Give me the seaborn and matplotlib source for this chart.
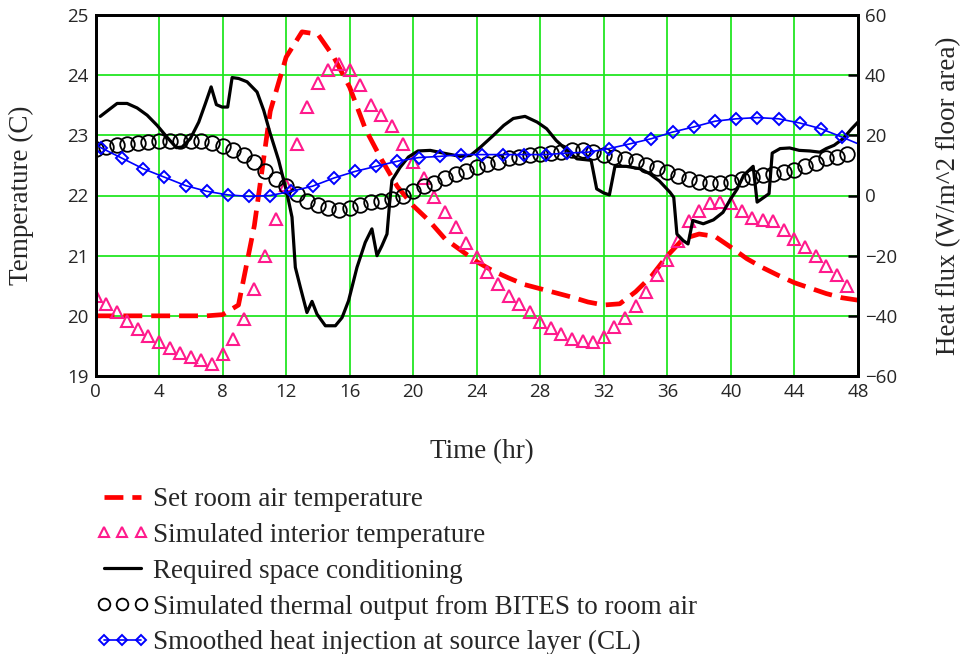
import numpy as np
import matplotlib
matplotlib.use("Agg")
import matplotlib.pyplot as plt
import seaborn as sns

# set room air temperature (C), hourly 0..48
set_hours = list(range(49))
set_temp = [20.0, 20.0, 20.0, 20.0, 20.0, 20.0, 20.0, 20.0, 20.02, 20.18,
            21.5, 23.4, 24.3, 24.72, 24.68, 24.3, 23.8, 23.1, 22.6, 22.15,
            21.83, 21.58, 21.28, 21.09, 20.9, 20.75, 20.63, 20.52, 20.45, 20.38,
            20.31, 20.23, 20.18, 20.2, 20.4, 20.66, 21.0, 21.28, 21.36, 21.32,
            21.14, 20.95, 20.8, 20.67, 20.55, 20.46, 20.37, 20.3, 20.26]

# marker series sampled every 40 minutes
marker_hours = np.arange(72) * 2 / 3
sim_temp = [20.33, 20.19, 20.06, 19.92, 19.78, 19.67, 19.56, 19.47, 19.39, 19.31,
            19.26, 19.2, 19.36, 19.61, 19.94, 20.44, 21.0, 21.61,
            22.17, 22.86, 23.47, 23.87, 24.09, 24.19, 24.09, 23.83, 23.51, 23.34,
            23.15, 22.86, 22.56, 22.29, 21.98, 21.73, 21.47, 21.21,
            20.97, 20.73, 20.53, 20.33, 20.19, 20.06, 19.9, 19.79, 19.69, 19.62,
            19.58, 19.56, 19.64, 19.81, 19.96, 20.17, 20.39,
            20.68, 20.93, 21.24, 21.58, 21.75, 21.87, 21.9, 21.87, 21.75, 21.63,
            21.6, 21.58, 21.43, 21.28, 21.14, 20.99, 20.82, 20.68, 20.5]
bites_out = [15.4, 16.1, 16.7, 17.2, 17.6, 17.8, 18.0, 18.0, 18.0, 18.0,
             18.0, 17.6, 16.6, 15.2, 13.5, 11.3, 8.2, 5.6, 3.3, 0.5,
             -1.7, -3.2, -4.1, -4.7, -4.0, -3.2, -2.3, -1.7, -1.1, -0.3,
             1.5, 3.0, 4.3, 5.8, 7.1, 8.3, 9.6, 10.5, 11.3, 12.4,
             12.9, 13.5, 13.9, 14.1, 14.3, 15.0, 15.1, 14.6, 13.5, 12.7,
             12.1, 11.4, 10.2, 9.1, 7.8, 6.5, 5.5, 4.6, 4.2, 4.1,
             4.6, 5.4, 6.2, 6.7, 7.1, 7.7, 8.6, 9.7, 10.9, 12.3,
             12.8, 13.8]

# required space conditioning (W/m^2)
req_hours = [0.3, 0.94, 1.36, 1.99, 2.62, 3.25, 3.88, 4.5, 5.09, 5.45,
             5.97, 6.5, 6.92, 7.28, 7.61, 7.97, 8.32, 8.6, 9.01, 9.54,
             10.17, 10.59, 11.0, 11.53, 12.06, 12.37, 12.58, 12.9, 13.31, 13.63,
             13.94, 14.47, 15.1, 15.52, 15.93, 16.46, 16.98, 17.4, 17.72, 18.03,
             18.35, 18.51, 18.66, 19.18, 19.7, 20.3, 21.07, 21.9, 22.96, 23.6,
             24.2, 25.05, 25.7, 26.3, 27.04, 27.8, 28.4, 29.0, 29.56, 30.3,
             31.2, 31.55, 31.97, 32.35, 32.7, 33.4, 34.28, 34.9, 35.5, 36.16,
             36.4, 36.6, 37.0, 37.3, 37.6, 38.26, 38.9, 39.5, 40.0, 40.4,
             40.8, 41.4, 41.65, 42.4, 42.6, 43.1, 43.7, 44.3, 44.97, 45.6,
             46.0, 46.5, 47.06, 47.6, 48.0]
req_flux = [26.3, 28.9, 30.6, 30.6, 29.1, 26.7, 23.3, 19.4, 15.9, 16.1,
            18.9, 24.4, 30.6, 36.1, 30.2, 29.4, 29.4, 39.2, 38.9, 37.8,
            34.4, 28.3, 20.6, 11.7, 0.6, -7.2, -23.9, -30.6, -38.9, -35.2,
            -39.4, -43.3, -43.3, -40.6, -35.0, -23.9, -15.6, -11.1, -20.0, -16.7,
            -12.8, -2.8, 5.0, 9.4, 12.8, 14.8, 15.0, 14.1, 13.0, 13.3,
            15.9, 20.0, 23.3, 25.6, 26.3, 24.4, 22.2, 18.3, 15.6, 12.2,
            11.7, 2.2, 0.9, 0.2, 9.7, 9.7, 8.9, 7.2, 4.8, 1.1,
            -0.6, -12.8, -15.0, -16.1, -8.3, -9.4, -8.1, -5.6, -1.0, 2.2,
            6.7, 9.7, -2.2, 0.6, 14.1, 15.6, 15.8, 15.0, 14.8, 14.4,
            15.6, 16.7, 18.9, 22.2, 24.4]

# smoothed heat injection at source layer (line ends + diamond points)
inj_hours = [0.0] + list(np.arange(36) * 4 / 3 + 1 / 3) + [48.0]
inj_flux = [17.0, 15.9, 12.4, 8.9, 6.1, 3.3, 1.4, 0.2, -0.3, 0.0,
            1.4, 3.1, 5.8, 8.0, 9.7, 11.4, 12.6, 13.0, 13.6, 13.6,
            13.6, 13.6, 13.6, 14.1, 14.4, 15.6, 17.2, 18.9, 21.1, 22.8,
            24.7, 25.5, 25.9, 25.5, 24.1, 22.2, 19.4, 17.2]

labels = ["Set room air temperature",
          "Simulated interior temperature",
          "Required space conditioning",
          "Simulated thermal output from BITES to room air",
          "Smoothed heat injection at source layer (CL)"]

sns.set_style("white")
plt.rcParams["font.family"] = ["Liberation Serif", "DejaVu Serif"]

fig = plt.figure(figsize=(9.6, 6.54), dpi=100)
ax = fig.add_axes([95.5 / 960, 1 - 376 / 654, 762.5 / 960, 361 / 654])
ax2 = ax.twinx()

pink = "#ff1a8c"
sns.lineplot(x=set_hours, y=set_temp, ax=ax, color="red", lw=3.4, errorbar=None)
ax.lines[-1].set_dashes([4, 1.9])
red_line = ax.lines[-1]
sns.lineplot(x=marker_hours, y=sim_temp, ax=ax, color=pink, linestyle="none",
             marker="^", markersize=9, mfc="none", mec=pink, mew=1.5, errorbar=None)
tri_line = ax.lines[-1]

sns.lineplot(x=req_hours, y=req_flux, ax=ax2, color="black", lw=2.3, errorbar=None)
blk_line = ax2.lines[-1]
sns.lineplot(x=marker_hours, y=bites_out, ax=ax2, color="black", linestyle="none",
             marker="o", markersize=10.5, mfc="none", mec="black", mew=1.3, errorbar=None)
circ_line = ax2.lines[-1]
sns.lineplot(x=inj_hours, y=inj_flux, ax=ax2, color="#0000ff", lw=1.2,
             marker="D", markersize=6.5, mfc="none", mec="#0000ff", mew=1.4,
             markevery=list(range(1, 37)), errorbar=None)
dia_line = ax2.lines[-1]

for a in (ax, ax2):
    if a.get_legend() is not None:
        a.get_legend().remove()

ax.set_xlim(0, 48)
ax.set_ylim(19, 25)
ax2.set_ylim(-60, 60)
ax.set_xticks(range(0, 49, 4))
ax.set_yticks(range(19, 26))
ax2.set_yticks(range(-60, 61, 20))

ax.grid(True, color="#22e622", lw=1.3)
ax.set_axisbelow(True)
for a in (ax, ax2):
    for s in a.spines.values():
        s.set_color("black")
        s.set_linewidth(2)

ax.tick_params(axis="both", length=0, pad=5)
ax2.tick_params(axis="y", direction="in", length=7, width=1.8, color="black", pad=5)
for lab in ax.get_xticklabels() + ax.get_yticklabels() + ax2.get_yticklabels():
    lab.set_fontfamily("Open Sans")
    lab.set_fontsize(13.5)

ax.set_xlabel("Time (hr)", fontsize=19.5)
ax.set_ylabel("Temperature (C)", fontsize=19.5)
ax2.set_ylabel("Heat flux (W/m^2 floor area)", fontsize=19.5)
ax.xaxis.set_label_coords(0.507, -0.175)
ax.yaxis.set_label_coords(-0.08, 0.5)
ax2.yaxis.set_label_coords(1.103, 0.5)

handles = [red_line, tri_line, blk_line, circ_line, dia_line]
fig.legend(handles, labels, loc="upper left", bbox_to_anchor=(96 / 960, 1 - 487 / 654),
           frameon=False, fontsize=19.5, numpoints=3, markerscale=0.8,
           handlelength=1.95, handletextpad=0.15, labelspacing=0.4,
           borderpad=0, borderaxespad=0)

fig.savefig("out.png", dpi=100)
